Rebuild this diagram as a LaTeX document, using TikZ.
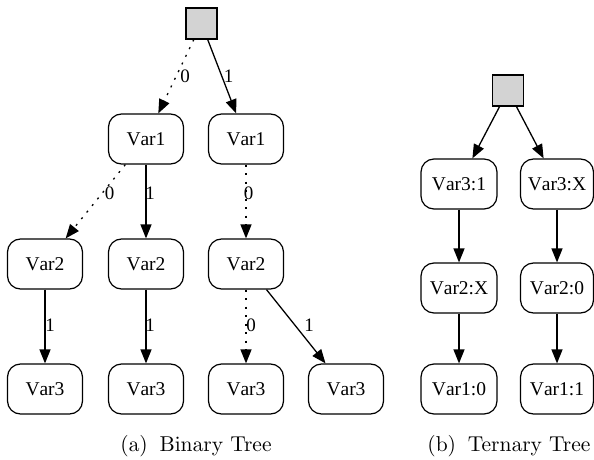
\documentclass[tikz,border=0pt]{standalone}
\usepackage{fontspec}
\setmainfont{Liberation Serif}[Kerning=Off]
\usetikzlibrary{arrows.meta}
\definecolor{rootgray}{HTML}{D3D3D3}
\font\capfont=cmr10 at 21.5pt
\begin{document}
\begin{tikzpicture}[x=1pt,y=-1pt,
  var/.style={draw, rounded corners=13pt, minimum width=75pt, minimum height=50pt, inner sep=0pt, line width=1.2pt, font=\fontsize{19.5}{22}\selectfont},
  varn/.style={var, minimum width=73pt},
  varw/.style={var, minimum width=76pt},
  rootbox/.style={draw, fill=rootgray, minimum size=31pt, inner sep=0pt, line width=1.2pt},
  arr/.style={-{Triangle[length=14pt,width=11pt]}, line width=1.3pt},
  zeroarr/.style={arr, dash pattern=on 2pt off 6.5pt},
  lbl/.style={inner sep=0pt, font=\fontsize{19}{22}\selectfont},
  captxt/.style={inner sep=0pt, font=\capfont}]
\useasboundingbox (0,0) rectangle (594,460);

% ---------- Binary tree ----------
\node[rootbox] (r) at (201.5,23.5) {};
\node[var] (a1) at (146,139) {Var1};
\node[var] (b1) at (246,139) {Var1};
\node[var] (a2) at (45,264) {Var2};
\node[var] (b2) at (146,264) {Var2};
\node[var] (c2) at (246,264) {Var2};
\node[var] (a3) at (45,389) {Var3};
\node[var] (b3) at (146,389) {Var3};
\node[var] (c3) at (246,389) {Var3};
\node[var] (d3) at (346,389) {Var3};

\draw[zeroarr] (r) -- (a1);
\draw[arr] (r) -- (b1);
\draw[zeroarr] (a1) -- (a2);
\draw[arr] (a1) -- (b2);
\draw[zeroarr] (b1) -- (c2);
\draw[arr] (a2) -- (a3);
\draw[arr] (b2) -- (b3);
\draw[zeroarr] (c2) -- (c3);
\draw[arr] (c2) -- (d3);

\node[lbl] (l1) at (185,76) {0};
\node[lbl] (l2) at (228.5,76) {1};
\node[lbl] (l3) at (109.5,193) {0};
\node[lbl] (l4) at (150,193) {1};
\node[lbl] (l5) at (248.5,193) {0};
\node[lbl] (l6) at (50,325) {1};
\node[lbl] (l7) at (150,325) {1};
\node[lbl] (l8) at (251,325) {0};
\node[lbl] (l9) at (309,325) {1};

\node[captxt] (capa) at (196,446.5) {(a)\hspace{0.55em}Binary Tree};

% ---------- Ternary tree ----------
\node[rootbox] (t) at (508,90.5) {};
\node[varw] (p1) at (459,184) {Var3:1};
\node[varn] (q1) at (557,184) {Var3:X};
\node[varw] (p2) at (459,288) {Var2:X};
\node[varn] (q2) at (557,288) {Var2:0};
\node[varw] (p3) at (459,389) {Var1:0};
\node[varn] (q3) at (557,389) {Var1:1};

\draw[arr] (t) -- (p1);
\draw[arr] (t) -- (q1);
\draw[arr] (p1) -- (p2);
\draw[arr] (q1) -- (q2);
\draw[arr] (p2) -- (p3);
\draw[arr] (q2) -- (q3);

\node[captxt] (capb) at (509,446.5) {(b)\hspace{0.55em}Ternary Tree};
\end{tikzpicture}
\end{document}
